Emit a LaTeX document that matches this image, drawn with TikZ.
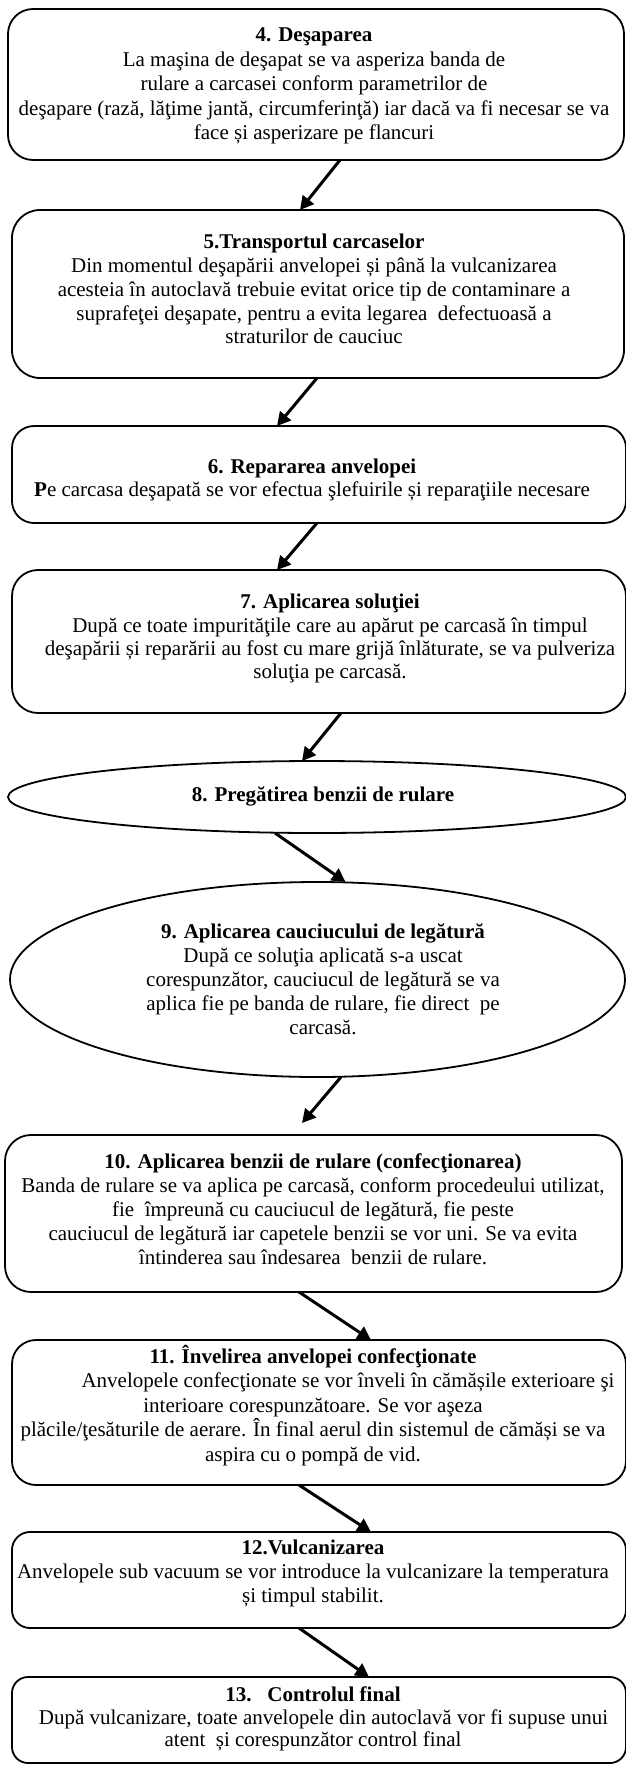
\documentclass[tikz,border=0pt]{standalone}
\usepackage{fontspec}
\setmainfont{Liberation Serif}
\usetikzlibrary{arrows.meta,shapes.geometric}
\tikzset{
  box/.style={draw, line width=1.8pt, rectangle, inner sep=0pt, outer sep=0pt, anchor=north west},
  oval/.style={draw, line width=1.8pt, ellipse, inner sep=0pt, outer sep=0pt},
  txt/.style={align=center, inner sep=0pt, font=\fontsize{21pt}{#1}\selectfont},
  txt/.default=24pt,
  arr/.style={line width=3pt, -{Triangle[length=13.5pt,width=14pt]}},
}
\begin{document}
\begin{tikzpicture}[x=1pt,y=-1pt]
\useasboundingbox (0,0) rectangle (625,1769);
% boxes
\node[box, rounded corners=25pt, minimum width=616pt, minimum height=151pt] (b4) at (8,9) {};
\node[box, rounded corners=28pt, minimum width=612pt, minimum height=168pt] (b5) at (12,210) {};
\node[box, rounded corners=22pt, minimum width=614pt, minimum height=97pt] (b6) at (12,426) {};
\node[box, rounded corners=26pt, minimum width=614pt, minimum height=143pt] (b7) at (12,570) {};
\node[oval, minimum width=618pt, minimum height=72pt] (e8) at (317,797) {};
\node[oval, minimum width=615pt, minimum height=195pt] (e9) at (317.5,979.5) {};
\node[box, rounded corners=26pt, minimum width=617pt, minimum height=157pt] (b10) at (5,1135) {};
\node[box, rounded corners=24pt, minimum width=614pt, minimum height=145pt] (b11) at (12,1340) {};
\node[box, rounded corners=18pt, minimum width=614pt, minimum height=96pt] (b12) at (12,1532) {};
\node[box, rounded corners=16pt, minimum width=614pt, minimum height=86pt] (b13) at (12,1677) {};
% texts
\node[txt=24.5pt] (t4) at (314,86) {\strut\textbf{4. Deşaparea}\\La maşina de deşapat se va asperiza banda de\\rulare a carcasei conform parametrilor de\\deşapare (rază, lăţime jantă, circumferinţă) iar dacă va fi necesar se va\\face și asperizare pe flancuri\strut};
\node[txt=23.75pt] (t5) at (314,291.5) {\strut\textbf{5.Transportul carcaselor}\\Din momentul deşapării anvelopei și până la vulcanizarea\\acesteia în autoclavă trebuie evitat orice tip de contaminare a\\suprafeţei deşapate, pentru a evita legarea\ \ defectuoasă a\\straturilor de cauciuc\strut};
\node[txt=23pt] (t6) at (312,480.5) {\strut\textbf{6. Repararea anvelopei}\\\textbf{P}e carcasa deşapată se vor efectua şlefuirile și reparaţiile necesare\strut};
\node[txt=23.3pt] (t7) at (330,639) {\strut\textbf{7. Aplicarea soluţiei}\\După ce toate impurităţile care au apărut pe carcasă în timpul\\deşapării și reparării au fost cu mare grijă înlăturate, se va pulveriza\\soluţia pe carcasă.\strut};
\node[txt] (t8) at (323,797) {\strut\textbf{8. Pregătirea benzii de rulare}\strut};
\node[txt] (t9) at (323,982) {\strut\textbf{9. Aplicarea cauciucului de legătură}\\După ce soluţia aplicată s-a uscat\\corespunzător, cauciucul de legătură se va\\aplica fie pe banda de rulare, fie direct\ \ pe\\carcasă.\strut};
\node[txt] (t10) at (313,1212) {\strut\textbf{10. Aplicarea benzii de rulare (confecţionarea)}\\Banda de rulare se va aplica pe carcasă, conform procedeului utilizat,\\fie\ \ împreună cu cauciucul de legătură, fie peste\\cauciucul de legătură iar capetele benzii se vor uni. Se va evita\\întinderea sau îndesarea\ \ benzii de rulare.\strut};
\node[txt=24.5pt] (t11) at (313,1407) {\strut\textbf{11. Învelirea anvelopei confecţionate}\\\hspace*{70pt}Anvelopele confecţionate se vor înveli în cămășile exterioare şi\\interioare corespunzătoare. Se vor aşeza\\plăcile/ţesăturile de aerare. În final aerul din sistemul de cămăși se va\\aspira cu o pompă de vid.\strut};
\node[txt] (t12) at (313,1574) {\strut\textbf{12.Vulcanizarea}\\Anvelopele sub vacuum se vor introduce la vulcanizare la temperatura\\și timpul stabilit.\strut};
\node[txt=22.5pt] (t13) at (313,1719.5) {\strut\textbf{13.\ \ \ Controlul final}\\\hspace*{21pt}După vulcanizare, toate anvelopele din autoclavă vor fi supuse unui\\atent\ \ și corespunzător control final\strut};
% arrows
\draw[arr] ([xshift=24pt]b4.south) -- ([xshift=-18pt]b5.north);
\draw[arr] ([xshift=-1pt]b5.south) -- ([xshift=-42pt]b6.north);
\draw[arr] ([xshift=-2pt]b6.south) -- ([xshift=-42pt]b7.north);
\draw[arr] ([xshift=22pt]b7.south) -- ([xshift=-15pt]e8.north);
\draw[arr] ([xshift=-42pt]e8.south) -- ([xshift=28pt]e9.north);
\draw[arr] ([xshift=23.5pt]e9.south) -- ([xshift=-11.5pt,yshift=12pt]b10.north);
\draw[arr] ([xshift=-14.5pt]b10.south) -- ([xshift=52pt]b11.north);
\draw[arr] ([xshift=-20pt]b11.south) -- ([xshift=52pt]b12.north);
\draw[arr] ([xshift=-20pt]b12.south) -- ([xshift=50pt]b13.north);
\end{tikzpicture}
\end{document}
